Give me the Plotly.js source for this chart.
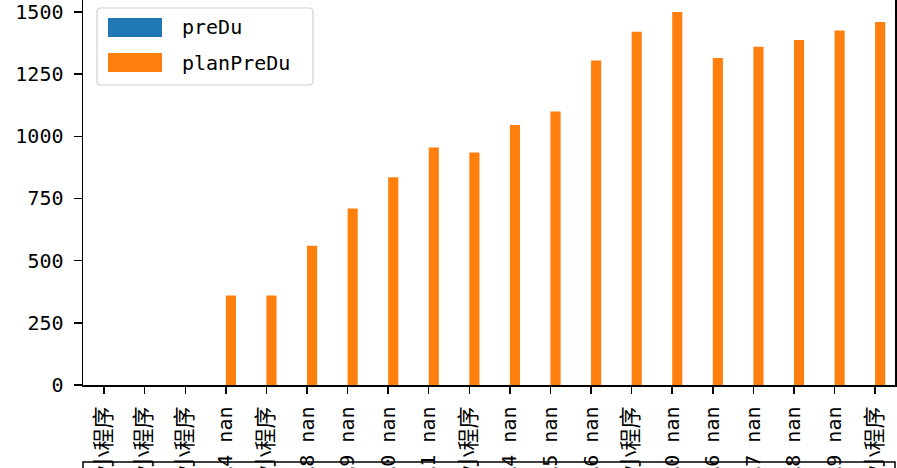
<!DOCTYPE html>
<html>
<head>
<meta charset="utf-8">
<script src="https://cdn.plot.ly/plotly-3.0.1.min.js"></script>
<style>html,body{margin:0;padding:0;background:#fff;}#chart{width:897px;height:468px;}</style>
</head>
<body>
<div id="chart"></div>
<script>
// ---- data ----
var categoryLabels = [
  "…小程序", "…小程序", "…小程序", "…4 nan", "…小程序",
  "…8 nan", "…9 nan", "…0 nan", "…1 nan", "…小程序",
  "…4 nan", "…5 nan", "…6 nan", "…小程序", "…0 nan",
  "…6 nan", "…7 nan", "…8 nan", "…9 nan", "…小程序"
];
var seriesNames = ["preDu", "planPreDu"];
var preDu = [null, null, null, null, null, null, null, null, null, null,
             null, null, null, null, null, null, null, null, null, null];
var planPreDu = [null, null, null, 360, 360, 560, 710, 835, 955, 935,
                 1045, 1100, 1305, 1420, 1500, 1315, 1360, 1387, 1425, 1460];
var yTicks = [0, 250, 500, 750, 1000, 1250, 1500];
var seriesColors = ["#1f77b4", "#ff7f0e"];

// ---- layout helpers (pixels -> paper) ----
var W = 897, H = 468, L = 83, R = 2, T = 0, B = 83;
var pw = W - L - R, ph = H - T - B;
function px(x) { return (x - L) / pw; }
function py(y) { return (H - B - y) / ph; }

var xIdx = categoryLabels.map(function (_, i) { return i; });
var font = "DejaVu Sans Mono, Noto Sans CJK SC, sans-serif";
// CJK glyphs slightly larger, as in the reference's SimHei rendering
function styleLabel(s) {
  return s.replace(/([\u4e00-\u9fff]+)/g, '<span style="font-size:22px">$1</span>');
}

var traces = [
  { type: "bar", name: seriesNames[0], x: xIdx, y: preDu, marker: { color: seriesColors[0] }, showlegend: false },
  { type: "bar", name: seriesNames[1], x: xIdx, y: planPreDu, marker: { color: seriesColors[1] }, showlegend: false }
];

// custom legend (matplotlib style)
var shapes = [];
var annotations = [];
(function () {
  var x0 = 97, x1 = 313, y0 = 8, y1 = 85, r = 4;
  var p = "M" + px(x0 + r) + "," + py(y0) +
    " L" + px(x1 - r) + "," + py(y0) +
    " Q" + px(x1) + "," + py(y0) + " " + px(x1) + "," + py(y0 + r) +
    " L" + px(x1) + "," + py(y1 - r) +
    " Q" + px(x1) + "," + py(y1) + " " + px(x1 - r) + "," + py(y1) +
    " L" + px(x0 + r) + "," + py(y1) +
    " Q" + px(x0) + "," + py(y1) + " " + px(x0) + "," + py(y1 - r) +
    " L" + px(x0) + "," + py(y0 + r) +
    " Q" + px(x0) + "," + py(y0) + " " + px(x0 + r) + "," + py(y0) + " Z";
  shapes.push({ type: "path", xref: "paper", yref: "paper", path: p,
    fillcolor: "rgba(255,255,255,0.8)", line: { color: "#d0d0d0", width: 1.2 }, layer: "above" });
})();
var legendRows = [[18, 37], [53, 72]];
seriesNames.forEach(function (name, i) {
  var r = legendRows[i];
  shapes.push({ type: "rect", xref: "paper", yref: "paper",
    x0: px(108), x1: px(162), y0: py(r[1]), y1: py(r[0]),
    fillcolor: seriesColors[i], line: { width: 0 }, layer: "above" });
  annotations.push({ xref: "paper", yref: "paper", x: px(180), y: py((r[0] + r[1]) / 2),
    xanchor: "left", yanchor: "middle", showarrow: false, text: name,
    font: { family: font, size: 20, color: "#000" } });
});
// frame line below the tick labels
shapes.push({ type: "path", xref: "paper", yref: "paper",
  path: "M" + px(83) + "," + py(475) + " L" + px(83) + "," + py(462) +
        " L" + px(895) + "," + py(462) + " L" + px(895) + "," + py(475),
  line: { color: "#000", width: 1.5 }, layer: "above" });

var layout = {
  width: W, height: H,
  margin: { l: L, r: R, t: T, b: B, pad: 0 },
  paper_bgcolor: "#fff", plot_bgcolor: "#fff",
  barmode: "group", bargap: 0.5, bargroupgap: 0,
  showlegend: false,
  xaxis: {
    type: "linear", range: [-0.52, 19.49],
    tickmode: "array", tickvals: xIdx, ticktext: categoryLabels.map(styleLabel),
    tickangle: -90, ticks: "outside", ticklen: 7, tickwidth: 1.5, tickcolor: "#000",
    showline: true, linecolor: "#000", linewidth: 1.5, mirror: false,
    showgrid: false, zeroline: false, ticklabelstandoff: 5,
    ticklabeloverflow: "allow",
    tickfont: { family: font, size: 20, color: "#000" }
  },
  yaxis: {
    range: [0, 1548],
    tickmode: "array", tickvals: yTicks, ticktext: yTicks.map(String),
    ticks: "outside", ticklen: 8, tickwidth: 1.5, tickcolor: "#000",
    showline: true, linecolor: "#000", linewidth: 1.5, mirror: true,
    showgrid: false, zeroline: false, ticklabelstandoff: 6,
    ticklabeloverflow: "allow",
    tickfont: { family: font, size: 20, color: "#000" }
  },
  shapes: shapes,
  annotations: annotations
};

Plotly.newPlot("chart", traces, layout, { displayModeBar: false, staticPlot: true });
</script>
</body>
</html>
